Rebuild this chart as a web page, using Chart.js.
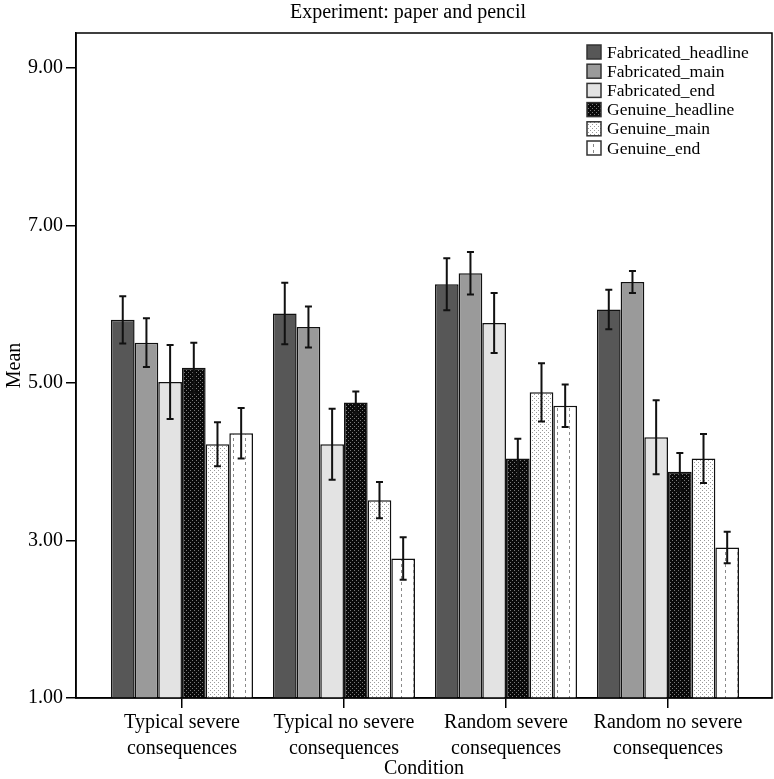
<!DOCTYPE html>
<html>
<head>
<meta charset="utf-8">
<script src="https://cdn.jsdelivr.net/npm/chart.js@4.4.1/dist/chart.umd.min.js"></script>
<style>
html, body { margin: 0; padding: 0; background: #fff; }
</style>
</head>
<body>
<canvas id="barChart" width="774" height="779"></canvas>
<script>
// Data
const conditions = [
    ['Typical severe', 'consequences'],
    ['Typical no severe', 'consequences'],
    ['Random severe', 'consequences'],
    ['Random no severe', 'consequences']
];
const seriesNames = ['Fabricated_headline', 'Fabricated_main', 'Fabricated_end',
    'Genuine_headline', 'Genuine_main', 'Genuine_end'];

const fabHeadline = [5.80, 5.88, 6.25, 5.93];
const fabMain = [5.51, 5.71, 6.39, 6.28];
const fabEnd = [5.01, 4.22, 5.76, 4.31];
const genHeadline = [5.19, 4.75, 4.04, 3.87];
const genMain = [4.22, 3.51, 4.88, 4.04];
const genEnd = [4.36, 2.77, 4.71, 2.91];

const fabHeadlineErr = [0.30, 0.39, 0.33, 0.25];
const fabMainErr = [0.31, 0.26, 0.27, 0.14];
const fabEndErr = [0.47, 0.45, 0.38, 0.47];
const genHeadlineErr = [0.32, 0.14, 0.25, 0.24];
const genMainErr = [0.28, 0.23, 0.37, 0.31];
const genEndErr = [0.32, 0.27, 0.27, 0.20];

const yTicks = [1, 3, 5, 7, 9];

const serif = "'Liberation Serif', 'Times New Roman', serif";
Chart.defaults.font.family = serif;
Chart.defaults.color = '#000';

// fill patterns
function makePattern(w, h, draw) {
    const c = document.createElement('canvas');
    c.width = w; c.height = h;
    const g = c.getContext('2d');
    draw(g);
    return g.createPattern(c, 'repeat');
}
const darkDots = makePattern(4, 4, g => {
    g.fillStyle = '#0a0a0a'; g.fillRect(0, 0, 4, 4);
    g.fillStyle = '#7a7a7a'; g.fillRect(0, 0, 1, 1); g.fillRect(2, 2, 1, 1);
});
const lightDots = makePattern(4, 4, g => {
    g.fillStyle = '#fff'; g.fillRect(0, 0, 4, 4);
    g.fillStyle = '#9a9a9a'; g.fillRect(0, 0, 1, 1); g.fillRect(2, 2, 1, 1);
});
const dashLines = makePattern(12, 6, g => {
    g.fillStyle = '#fff'; g.fillRect(0, 0, 12, 6);
    g.fillStyle = '#8a8a8a'; g.fillRect(5, 0, 1, 3);
});

const values = [fabHeadline, fabMain, fabEnd, genHeadline, genMain, genEnd];
const errors = [fabHeadlineErr, fabMainErr, fabEndErr, genHeadlineErr, genMainErr, genEndErr];
const fills = ['#575757', '#9a9a9a', '#e3e3e3', darkDots, lightDots, dashLines];

const datasets = seriesNames.map((name, s) => ({
    label: name,
    data: values[s].map((v, i) => ({ x: i, y: v })),
    errors: errors[s],
    backgroundColor: fills[s],
    borderColor: '#111',
    borderWidth: 1.5,
    categoryPercentage: 0.877,
    barPercentage: 1.0
}));

// error bars
const errorBars = {
    id: 'errorBars',
    afterDatasetsDraw(chart) {
        const ctx = chart.ctx;
        const y = chart.scales.y;
        ctx.save();
        ctx.strokeStyle = '#111';
        ctx.lineWidth = 2;
        chart.data.datasets.forEach((ds, di) => {
            chart.getDatasetMeta(di).data.forEach((bar, i) => {
                const v = ds.data[i].y, e = ds.errors[i];
                const top = y.getPixelForValue(v + e);
                const bot = y.getPixelForValue(v - e);
                ctx.beginPath();
                ctx.moveTo(bar.x, top); ctx.lineTo(bar.x, bot);
                ctx.moveTo(bar.x - 3.5, top); ctx.lineTo(bar.x + 3.5, top);
                ctx.moveTo(bar.x - 3.5, bot); ctx.lineTo(bar.x + 3.5, bot);
                ctx.stroke();
            });
        });
        ctx.restore();
    }
};

// frame, title and legend
const decorations = {
    id: 'decorations',
    afterDraw(chart) {
        const ctx = chart.ctx;
        const a = chart.chartArea;
        ctx.save();
        ctx.strokeStyle = '#000';
        ctx.lineWidth = 1.5;
        ctx.strokeRect(a.left, a.top, a.right - a.left, a.bottom - a.top);

        ctx.fillStyle = '#000';
        ctx.font = '20px ' + serif;
        ctx.textAlign = 'center';
        ctx.textBaseline = 'middle';
        ctx.fillText('Experiment: paper and pencil', 408, 13);

        ctx.font = '17.5px ' + serif;
        ctx.textAlign = 'left';
        chart.data.datasets.forEach((ds, i) => {
            const cy = 52 + i * 19.2;
            ctx.fillStyle = ds.backgroundColor;
            ctx.fillRect(587, cy - 7, 14, 14);
            ctx.strokeStyle = '#333';
            ctx.lineWidth = 1.5;
            ctx.strokeRect(587, cy - 7, 14, 14);
            ctx.fillStyle = '#000';
            ctx.fillText(ds.label, 607, cy + 1);
        });
        ctx.restore();
    }
};

new Chart(document.getElementById('barChart').getContext('2d'), {
    type: 'bar',
    data: { datasets: datasets },
    options: {
        responsive: false,
        animation: false,
        layout: { padding: { top: 33, right: 2, left: 0, bottom: 0 } },
        plugins: {
            legend: { display: false },
            tooltip: { enabled: false },
            title: { display: false }
        },
        scales: {
            x: {
                type: 'linear',
                min: -0.654,
                max: 3.642,
                offset: false,
                grid: { offset: false, drawOnChartArea: false, drawTicks: true, tickLength: 10, color: '#000', lineWidth: 1.5 },
                border: { display: true, color: '#000', width: 1.5 },
                afterBuildTicks: s => { s.ticks = conditions.map((c, i) => ({ value: i })); },
                afterFit: s => { s.height = 81; },
                ticks: {
                    autoSkip: false,
                    maxRotation: 0,
                    minRotation: 0,
                    padding: 2,
                    font: { size: 20, family: serif, lineHeight: 1.3 },
                    callback: v => conditions[v]
                },
                title: {
                    display: true,
                    text: 'Condition',
                    font: { size: 20, family: serif, lineHeight: 1.0 },
                    padding: { top: 0, bottom: 0 }
                }
            },
            y: {
                min: 1,
                max: 9.44,
                grid: { drawOnChartArea: false, drawTicks: true, tickLength: 10, color: '#000', lineWidth: 1.5 },
                border: { display: true, color: '#000', width: 1.5 },
                afterBuildTicks: s => { s.ticks = yTicks.map(v => ({ value: v })); },
                afterFit: s => { s.width = 76; },
                ticks: {
                    padding: 3,
                    font: { size: 20, family: serif },
                    callback: v => v.toFixed(2)
                },
                title: {
                    display: true,
                    text: 'Mean',
                    font: { size: 20, family: serif },
                    padding: { top: 3, bottom: 0 }
                }
            }
        }
    },
    plugins: [errorBars, decorations]
});
</script>
</body>
</html>
